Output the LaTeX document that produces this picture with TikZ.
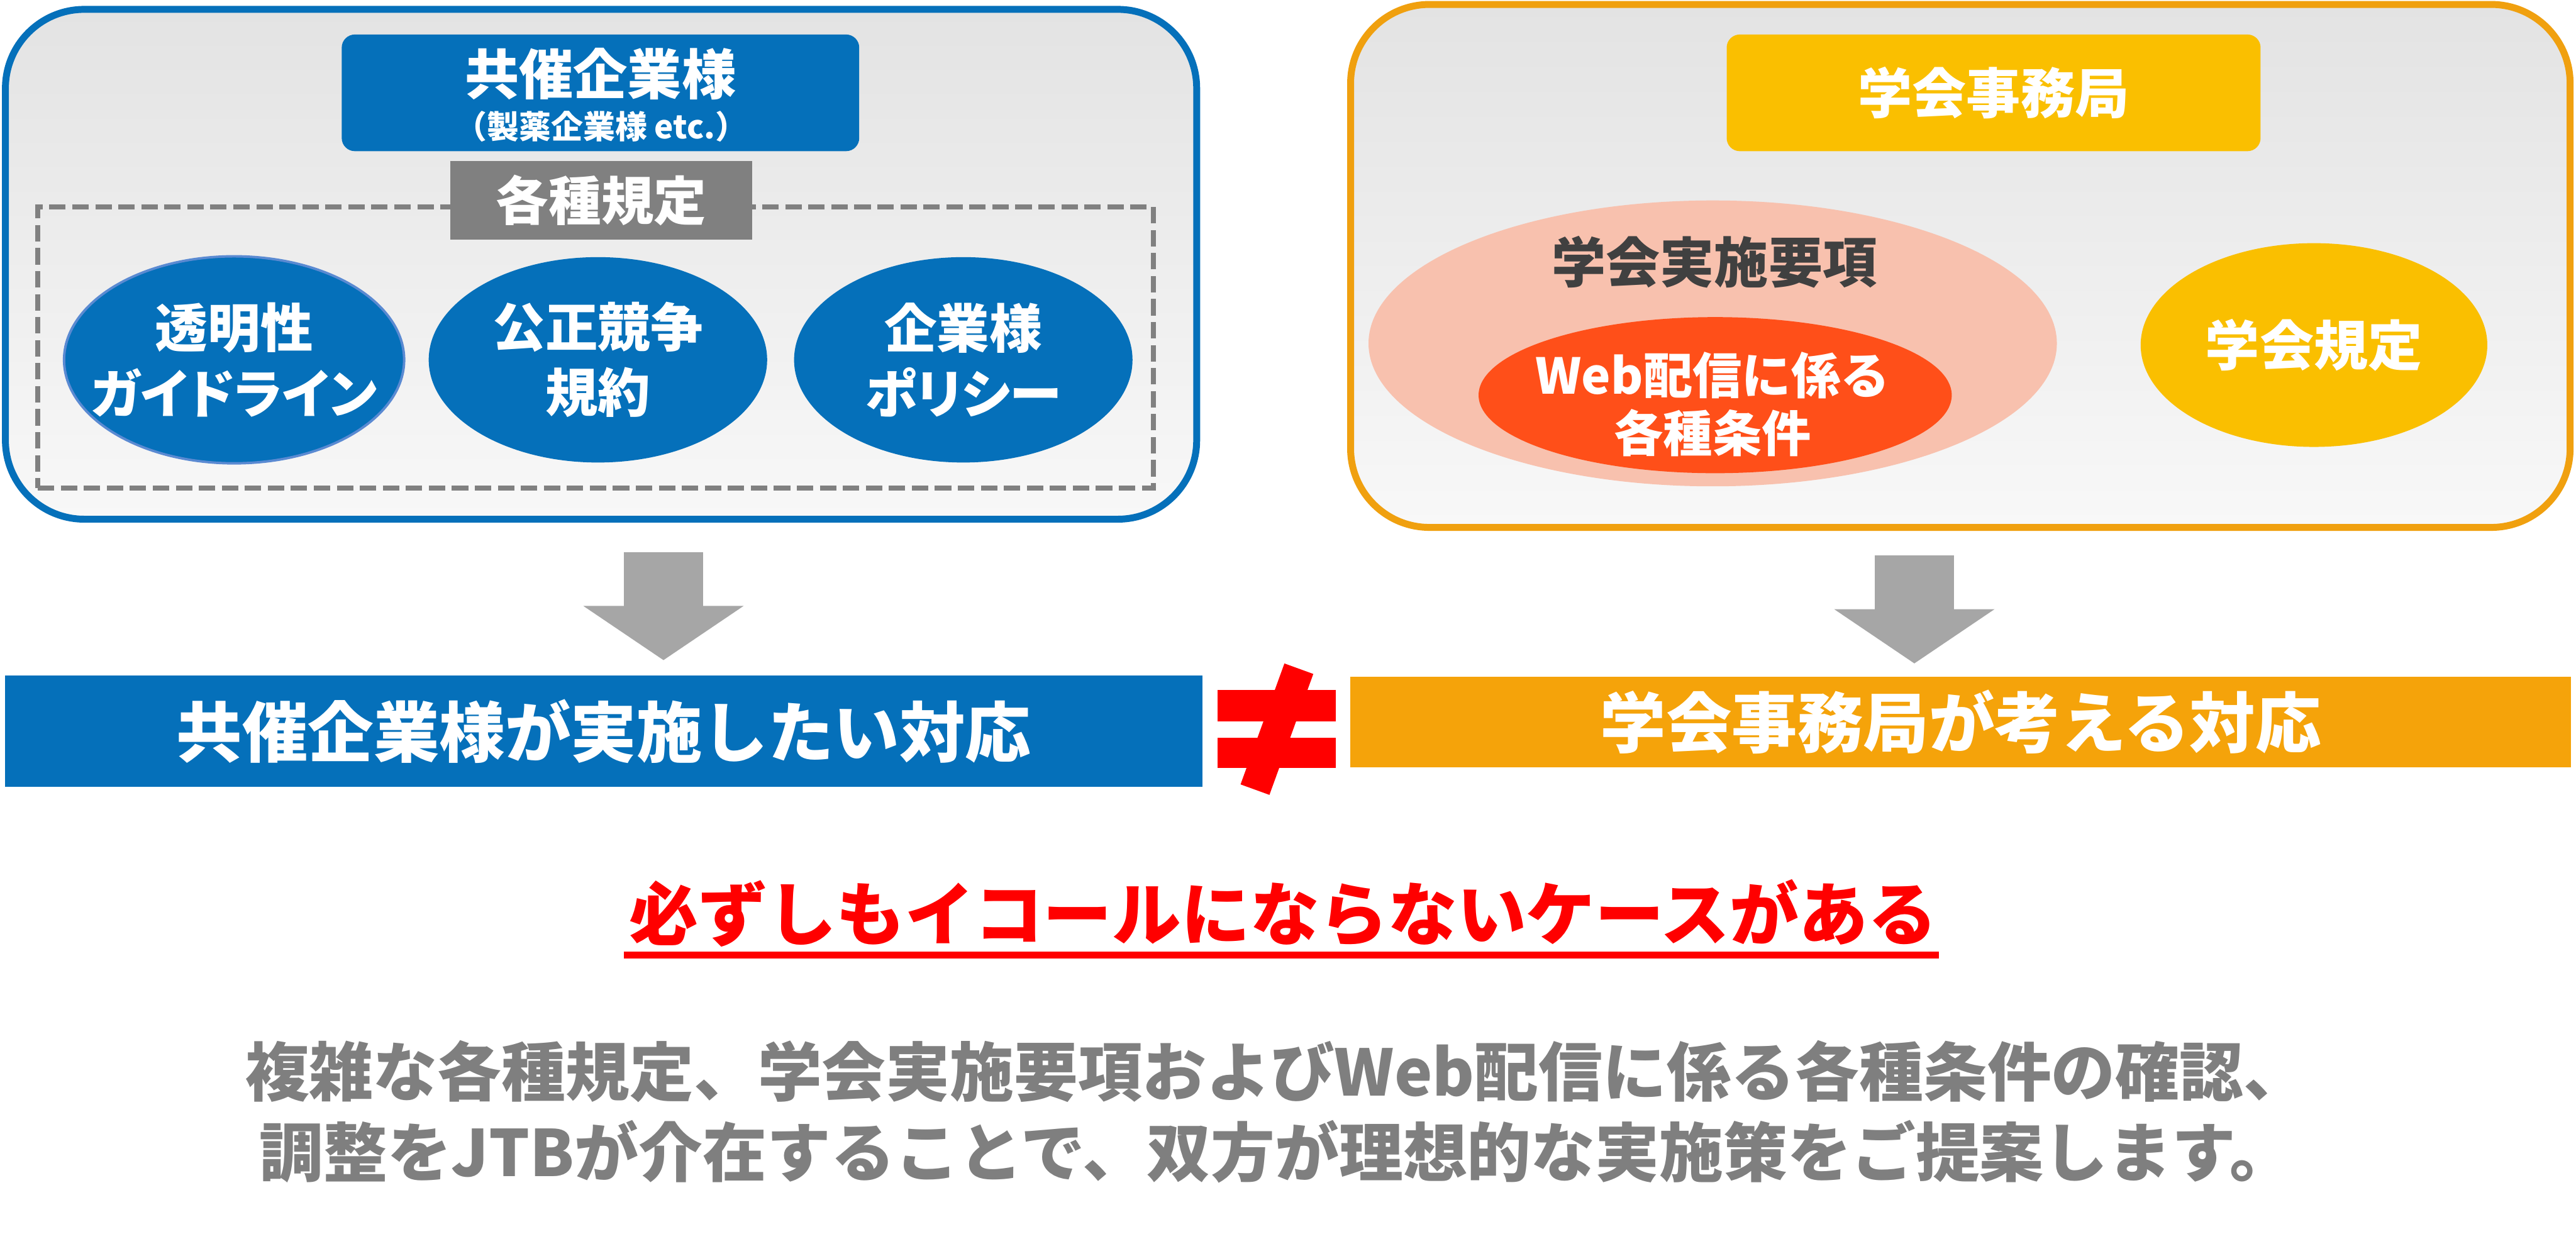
\documentclass[tikz,border=0pt]{standalone}
\usepackage{fontspec}
\setmainfont{Noto Sans CJK JP}
\newfontfamily\jpprop{Noto Sans CJK JP}[RawFeature=+palt]
\usepackage{xcolor}
\usepackage{tikz}
\usetikzlibrary{arrows.meta,positioning,shapes.geometric}

\definecolor{jblue}{HTML}{0570BA}
\definecolor{jorange}{HTML}{F0A00F}
\definecolor{barorange}{HTML}{F5A30A}
\definecolor{jyellow}{HTML}{FABF00}
\definecolor{boxtop}{HTML}{E3E3E3}
\definecolor{boxbot}{HTML}{F8F8F8}
\definecolor{taggray}{HTML}{808080}
\definecolor{ovaledge}{HTML}{5A8AD2}
\definecolor{salmon}{HTML}{F8C1AE}
\definecolor{webred}{HTML}{FF4F19}
\definecolor{darktxt}{HTML}{404040}
\definecolor{arrgray}{HTML}{A6A6A6}
\definecolor{neqred}{HTML}{FF0000}
\definecolor{txtgray}{HTML}{7F7F7F}

\newcommand{\jfs}[2]{\bfseries\fontsize{#1}{#2}\selectfont}

\begin{document}
\begin{tikzpicture}[
  x=1pt, y=-1pt,
  panel/.style={rounded corners=48pt, line width=4.2pt, top color=boxtop, bottom color=boxbot},
  hdr/.style={rounded corners=8pt, inner sep=0pt, text=white},
  dashbox/.style={draw=taggray, line width=3pt, dash pattern=on 10pt off 4pt, inner sep=0pt},
  wt/.style={text=white, align=center, inner sep=0pt},
  oval/.style={ellipse, fill=jblue, inner sep=0pt},
  bar/.style={text=white, inner sep=0pt, font=\jfs{40}{48}},
  blk/.style={-{Triangle[width=96pt,length=33pt]}, line width=48pt, draw=arrgray},
  neq/.style={neqred}
]
\useasboundingbox (0,0) rectangle (1568,750.8);

% sponsor side
\node[panel, draw=jblue, minimum width=725.1pt, minimum height=310.3pt] (lp) at (365.85,160.85) {};
\node[hdr, fill=jblue, minimum width=315pt, minimum height=71pt] (corp) at (365.5,56.5) {};
\node[wt, font=\jfs{33}{33}] (corpname) at (365.5,45) {共催企業様};
\node[wt, font=\jfs{19.5}{20}] (corpnote) at (366,77) {（製薬企業様 etc.）};
\node[dashbox, minimum width=679pt, minimum height=171pt] (rules) at (362.5,211.5) {};
\node[wt, fill=taggray, minimum width=184pt, minimum height=48pt, font=\jfs{32}{32}] (tag) at (366,122) {各種規定};

\node[oval, draw=ovaledge, line width=1.5pt, minimum width=207pt, minimum height=126pt] (o1) at (142.5,219) {};
\node[oval, minimum width=206pt, minimum height=125pt, right=14pt of o1] (o2) {};
\node[oval, minimum width=206pt, minimum height=125pt, right=16pt of o2] (o3) {};
\node[wt, font=\jfs{32}{40}] (t1) at (o1) {透明性\\{\jpprop ガイドライン}};
\node[wt, font=\jfs{32}{40}] (t2) at (o2) {公正競争\\規約};
\node[wt, font=\jfs{32}{40}] (t3) at (o3) {企業様\\{\jpprop ポリシー}};

% society side
\node[panel, draw=jorange, minimum width=742.3pt, minimum height=318.3pt] (rp) at (1193.25,161.85) {};
\node[hdr, fill=jyellow, minimum width=325pt, minimum height=71pt, font=\jfs{33}{33}] (office) at (1213.5,56.5) {学会事務局};
\node[ellipse, fill=salmon, inner sep=0pt, minimum width=419pt, minimum height=174pt] (guide) at (1042.5,209) {};
\node[inner sep=0pt, text=darktxt, font=\jfs{33}{33}] (guidettl) at (1043.5,159.5) {学会実施要項};
\node[ellipse, fill=webred, inner sep=0pt, minimum width=288pt, minimum height=95pt] (web) at (1044,240.5) {};
\node[wt, font=\jfs{30}{35}] (webtxt) at (1042.5,246) {Web配信に係る\\各種条件};
\node[oval, fill=jyellow, text=white, minimum width=211pt, minimum height=124pt, font=\jfs{33}{33}] (reg) at (1408.5,210) {学会規定};

% results
\node[bar, fill=jblue, minimum width=729pt, minimum height=68pt] (lbar) at (367.5,445) {共催企業様が実施したい対応};
\node[bar, fill=barorange, minimum width=743pt, minimum height=55pt] (rbar) at (1193.5,439.5) {学会事務局が考える対応};

\coordinate (la) at ([xshift=38pt]lp.south);
\coordinate (ra) at ([xshift=-28pt]rp.south);
\draw[blk, shorten <=18pt, shorten >=9pt] (la) -- (la |- lbar.north);
\draw[blk, shorten <=15pt, shorten >=8pt] (ra) -- (ra |- rbar.north);

\fill[neq] (741,420) rectangle (813,439);
\fill[neq] (741,449) rectangle (813,467.5);
\draw[neq, line width=18.7pt] (790.6,407) -- (763.9,480.6);

\node[inner sep=0pt, text=neqred, font=\jfs{42}{42}] (msg) at (781,556) {必ずしもイコールにならないケースがある};
\draw[neq, line width=4pt] ([xshift=-3pt,yshift=-9pt]msg.base west) -- ([xshift=1pt,yshift=-9pt]msg.base east);

\node[inner sep=0pt, text=txtgray, align=center, font=\jfs{39}{49}] (note) at (777,676.5) {複雑な各種規定、学会実施要項およびWeb配信に係る各種条件の確認、\\調整をJTBが介在することで、双方が理想的な実施策をご提案します。};
\end{tikzpicture}
\end{document}
